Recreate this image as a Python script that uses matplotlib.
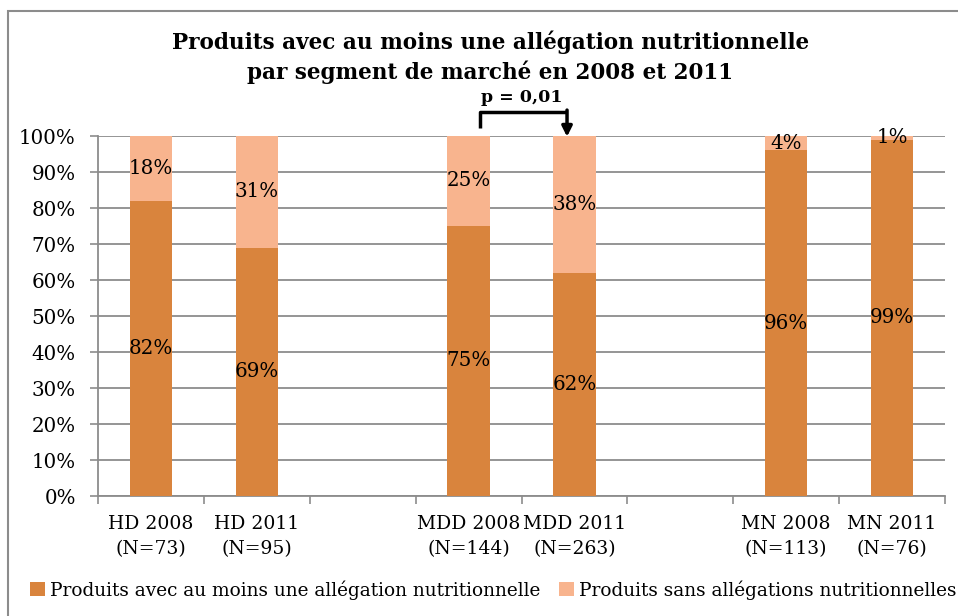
"""
Stacked bar chart: products with at least one nutrition claim, by market
segment, 2008 vs 2011.
"""

import matplotlib
matplotlib.use("Agg")
import matplotlib.pyplot as plt
from matplotlib.patches import Rectangle

categories = ["HD 2008\n(N=73)", "HD 2011\n(N=95)",
              "MDD 2008\n(N=144)", "MDD 2011\n(N=263)",
              "MN 2008\n(N=113)", "MN 2011\n(N=76)"]
slots = [0, 1, 3, 4, 6, 7]  # one empty slot between segments
avec = [82, 69, 75, 62, 96, 99]
sans = [18, 31, 25, 38, 4, 1]
series_names = ["Produits avec au moins une allégation nutritionnelle",
                "Produits sans allégations nutritionnelles"]
yticks = list(range(0, 101, 10))

DARK = "#D9843D"
LIGHT = "#F8B48E"
GRID = "#8C8C8C"

plt.rcParams["font.family"] = ["DejaVu Serif"]

fig = plt.figure(figsize=(9.58, 6.16), dpi=100)
ax = fig.add_axes([98 / 958, 1 - 496 / 616, 847 / 958, 360 / 616])

b1 = ax.bar(slots, avec, width=0.4, color=DARK, label=series_names[0], zorder=3)
b2 = ax.bar(slots, sans, width=0.4, bottom=avec, color=LIGHT,
            label=series_names[1], zorder=3)

for x, a, s in zip(slots, avec, sans):
    ax.text(x, a / 2, f"{a}%", ha="center", va="center", fontsize=14.3, zorder=4)
    ax.text(x, a + s / 2, f"{s}%", ha="center", va="center", fontsize=14.3, zorder=4)

ax.set_xlim(-0.5, 7.5)
ax.set_ylim(0, 100)
ax.set_yticks(yticks)
ax.set_yticklabels([f"{v}%" for v in yticks], fontsize=14.3)
ax.set_xticks(slots)
ax.set_xticklabels(categories, fontsize=13.5, linespacing=1.45)
ax.tick_params(axis="x", which="major", length=0, pad=14)
ax.set_xticks([i - 0.5 for i in range(9)], minor=True)
ax.tick_params(axis="x", which="minor", length=6, color=GRID, width=1.2)
ax.tick_params(axis="y", length=6, color=GRID, width=1.2, pad=10)

ax.yaxis.grid(True, color=GRID, linewidth=1.3, zorder=0)
for side in ["top", "right"]:
    ax.spines[side].set_visible(False)
for side in ["left", "bottom"]:
    ax.spines[side].set_color(GRID)
    ax.spines[side].set_linewidth(1.3)

# p-value bracket between MDD 2008 and MDD 2011
ax.plot([3.11, 3.11, 3.93], [102.2, 106.6, 106.6], color="black", lw=2.5,
        clip_on=False, solid_capstyle="butt", zorder=5)
ax.annotate("", xy=(3.93, 99.8), xytext=(3.93, 107.2), annotation_clip=False,
            arrowprops=dict(arrowstyle="-|>,head_length=0.6,head_width=0.3",
                            color="black", lw=2.5, shrinkA=0, shrinkB=0))
ax.text(3.5, 108.3, "p = 0,01", ha="center", va="bottom", fontsize=12.5,
        fontweight="bold")

fig.text(0.512, 1 - 57 / 616,
         "Produits avec au moins une allégation nutritionnelle\n"
         "par segment de marché en 2008 et 2011",
         ha="center", va="center", fontsize=15.5, fontweight="bold",
         linespacing=1.35)

fig.legend(handles=[b1, b2], loc="center", bbox_to_anchor=(0.515, 1 - 590 / 616),
           ncol=2, frameon=False, fontsize=13.3, handlelength=0.8,
           handleheight=0.8, handletextpad=0.3, columnspacing=1.0)

# chart area border, cut off at the right and bottom like the source image
fig.patches.append(Rectangle((8 / 958, -0.05), 1.0, 1 - 11 / 616 + 0.05,
                             transform=fig.transFigure, fill=False,
                             edgecolor="#8C8C8C", linewidth=1.5))

fig.savefig("out.png", dpi=100)
plt.close(fig)
